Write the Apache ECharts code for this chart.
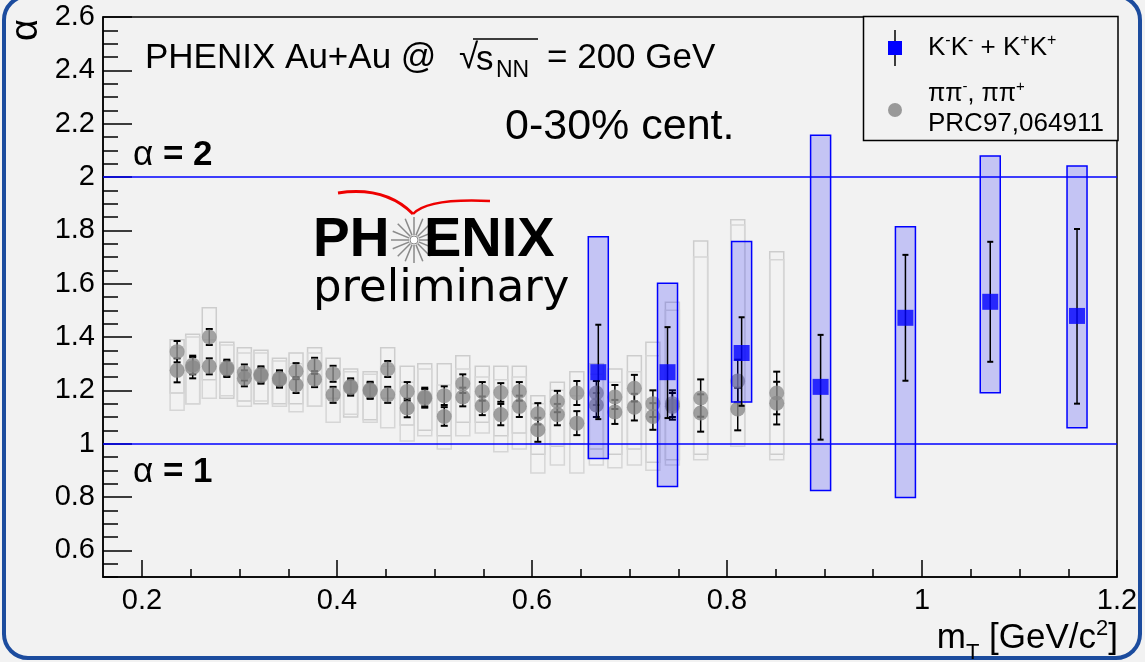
<!DOCTYPE html>
<html>
<head>
<meta charset="utf-8">
<title>PHENIX alpha vs mT</title>
<script src="https://cdn.jsdelivr.net/npm/echarts@6/dist/echarts.min.js"></script>
<style>
  html, body { margin: 0; padding: 0; background: #f2f2f2; }
  #chart { width: 1145px; height: 662px; }
</style>
</head>
<body>
<div id="chart"></div>
<script>
// K-K- + K+K+ (blue squares)
const kaonMt = [0.668, 0.739, 0.815, 0.896, 0.983, 1.070, 1.159]
const kaonAlpha = [1.268, 1.268, 1.340, 1.213, 1.472, 1.532, 1.479]
const kaonStatLo = [1.092, 1.096, 1.142, 1.015, 1.236, 1.307, 1.150]
const kaonStatHi = [1.446, 1.437, 1.474, 1.408, 1.708, 1.757, 1.805]
const kaonSysLo = [0.944, 0.839, 1.156, 0.824, 0.798, 1.191, 1.060]
const kaonSysHi = [1.776, 1.602, 1.758, 2.157, 1.813, 2.079, 2.041]

// pi pi-, pi pi+ (grey circles, PRC97,064911)
const pionMt = [0.236, 0.252, 0.269, 0.287, 0.305, 0.322, 0.341, 0.358, 0.377, 0.396,
  0.414, 0.434, 0.452, 0.472, 0.490, 0.510, 0.529, 0.549, 0.568, 0.587,
  0.606, 0.626, 0.646, 0.666, 0.685, 0.705, 0.724, 0.744, 0.773, 0.811, 0.851]
const pionMinusAlpha = [1.345, 1.295, 1.400, 1.285, 1.267, 1.260, 1.245, 1.272, 1.292, 1.262,
  1.215, 1.202, 1.280, 1.196, 1.175, 1.180, 1.225, 1.196, 1.192, 1.196,
  1.112, 1.158, 1.190, 1.190, 1.175, 1.208, 1.150, 1.150, 1.171, 1.235, 1.190]
const pionPlusAlpha = [1.275, 1.285, 1.290, 1.280, 1.245, 1.255, 1.240, 1.220, 1.242, 1.183,
  1.210, 1.198, 1.183, 1.134, 1.170, 1.102, 1.175, 1.142, 1.109, 1.140,
  1.052, 1.109, 1.077, 1.145, 1.119, 1.137, 1.102, 1.140, 1.115, 1.130, 1.152]
const pionMinusStat = [0.040, 0.035, 0.030, 0.030, 0.030, 0.030, 0.030, 0.030, 0.030, 0.030,
  0.030, 0.030, 0.030, 0.035, 0.035, 0.035, 0.035, 0.035, 0.035, 0.035,
  0.040, 0.040, 0.045, 0.045, 0.045, 0.050, 0.050, 0.050, 0.070, 0.080, 0.080]
const pionPlusStat = [0.045, 0.040, 0.030, 0.030, 0.030, 0.030, 0.030, 0.030, 0.030, 0.030,
  0.030, 0.030, 0.030, 0.035, 0.035, 0.035, 0.035, 0.035, 0.040, 0.040,
  0.045, 0.040, 0.045, 0.045, 0.045, 0.050, 0.050, 0.050, 0.070, 0.080, 0.080]
const pionMinusSysLo = [1.19, 1.15, 1.24, 1.17, 1.16, 1.15, 1.15, 1.15, 1.14, 1.17,
  1.10, 1.09, 1.17, 1.07, 1.05, 1.03, 1.08, 1.08, 1.03, 1.04,
  0.96, 0.99, 1.00, 0.98, 0.96, 0.98, 0.93, 0.94, 0.96, 1.00, 0.96]
const pionMinusSysHi = [1.39, 1.41, 1.51, 1.38, 1.36, 1.35, 1.32, 1.34, 1.36, 1.32,
  1.28, 1.27, 1.36, 1.29, 1.30, 1.30, 1.33, 1.29, 1.29, 1.29,
  1.18, 1.23, 1.27, 1.30, 1.28, 1.33, 1.38, 1.53, 1.76, 1.84, 1.72]
const pionPlusSysLo = [1.125, 1.15, 1.17, 1.18, 1.14, 1.16, 1.14, 1.12, 1.14, 1.08,
  1.11, 1.08, 1.06, 1.01, 1.03, 0.98, 1.03, 1.04, 0.97, 0.98,
  0.89, 0.92, 0.89, 0.92, 0.91, 0.92, 0.90, 0.92, 0.94, 0.99, 0.94]
const pionPlusSysHi = [1.36, 1.40, 1.39, 1.37, 1.34, 1.34, 1.31, 1.30, 1.34, 1.28,
  1.27, 1.26, 1.29, 1.23, 1.28, 1.22, 1.28, 1.25, 1.24, 1.25,
  1.15, 1.20, 1.18, 1.26, 1.23, 1.27, 1.33, 1.50, 1.70, 1.82, 1.69]

const refLines = [1, 2]
const xTickLabels = [0.2, 0.4, 0.6, 0.8, 1.0, 1.2]
const yTickLabels = [0.6, 0.8, 1.0, 1.2, 1.4, 1.6, 1.8, 2.0, 2.2, 2.4, 2.6]

const FONT = '"Liberation Sans", Arial, Helvetica, sans-serif'

function minorTicks (min, max, step) {
  const out = []
  for (let v = Math.ceil(min / step - 1e-9) * step; v <= max + 1e-9; v += step) {
    out.push(Math.round(v * 1000) / 1000)
  }
  return out
}

function boxRender (halfWidth, fill, stroke, lineWidth) {
  return function (params, api) {
    const top = api.coord([api.value(0), api.value(2)])
    const bot = api.coord([api.value(0), api.value(1)])
    return {
      type: 'rect',
      shape: { x: top[0] - halfWidth, y: top[1], width: halfWidth * 2, height: bot[1] - top[1] },
      style: { fill: fill, stroke: stroke, lineWidth: lineWidth }
    }
  }
}

function errRender (capHalf) {
  return function (params, api) {
    const top = api.coord([api.value(0), api.value(2)])
    const bot = api.coord([api.value(0), api.value(1)])
    const st = { stroke: '#000', lineWidth: 1.5 }
    return {
      type: 'group',
      children: [
        { type: 'line', shape: { x1: top[0], y1: top[1], x2: bot[0], y2: bot[1] }, style: st },
        { type: 'line', shape: { x1: top[0] - capHalf, y1: top[1], x2: top[0] + capHalf, y2: top[1] }, style: { stroke: '#000', lineWidth: 2 } },
        { type: 'line', shape: { x1: bot[0] - capHalf, y1: bot[1], x2: bot[0] + capHalf, y2: bot[1] }, style: { stroke: '#000', lineWidth: 2 } }
      ]
    }
  }
}

const pionMinusStatData = pionMt.map((m, i) => [m, pionMinusAlpha[i] - pionMinusStat[i], pionMinusAlpha[i] + pionMinusStat[i]])
const pionPlusStatData = pionMt.map((m, i) => [m, pionPlusAlpha[i] - pionPlusStat[i], pionPlusAlpha[i] + pionPlusStat[i]])
const pionMinusSysData = pionMt.map((m, i) => [m, pionMinusSysLo[i], pionMinusSysHi[i]])
const pionPlusSysData = pionMt.map((m, i) => [m, pionPlusSysLo[i], pionPlusSysHi[i]])
const kaonStatData = kaonMt.map((m, i) => [m, kaonStatLo[i], kaonStatHi[i]])
const kaonSysData = kaonMt.map((m, i) => [m, kaonSysLo[i], kaonSysHi[i]])

const xAxisBase = {
  type: 'value',
  min: 0.16,
  max: 1.2,
  splitLine: { show: false }
}
const yAxisBase = {
  type: 'value',
  min: 0.5,
  max: 2.6,
  splitLine: { show: false }
}

// decorative star of the PHENIX logo
const star = []
for (let k = 0; k < 16; k++) {
  const a = k * Math.PI / 8
  star.push({
    type: 'line',
    shape: { x1: 414 + 5 * Math.cos(a), y1: 240 + 5 * Math.sin(a), x2: 414 + 23 * Math.cos(a), y2: 240 + 23 * Math.sin(a) },
    style: { stroke: '#8a8a8a', lineWidth: 1.5 }
  })
}
star.push({ type: 'circle', shape: { cx: 414, cy: 240, r: 4 }, style: { fill: '#fff', stroke: '#8a8a8a', lineWidth: 1 } })

function txt (x, y, text, size, extra) {
  return {
    type: 'text',
    x: x,
    y: y,
    style: Object.assign({
      text: text,
      fill: '#000',
      fontFamily: FONT,
      fontSize: size,
      align: 'left',
      verticalAlign: 'middle',
      textAlign: 'left',
      textVerticalAlign: 'middle'
    }, extra || {})
  }
}

const option = {
  backgroundColor: '#f2f2f2',
  animation: false,
  grid: {
    left: 103,
    right: 28,
    top: 17,
    bottom: 85,
    show: true,
    borderColor: '#000',
    borderWidth: 1.5,
    backgroundColor: 'transparent'
  },
  xAxis: [
    Object.assign({}, xAxisBase, {
      position: 'bottom',
      axisLine: { show: true, lineStyle: { color: '#000', width: 1.5 } },
      axisTick: { show: true, inside: true, length: 17, customValues: xTickLabels, lineStyle: { color: '#000', width: 1.5 } },
      axisLabel: { show: true, customValues: xTickLabels, margin: 9, color: '#000', fontFamily: FONT, fontSize: 29, formatter: v => String(Math.round(v * 10) / 10) }
    }),
    Object.assign({}, xAxisBase, {
      position: 'bottom',
      axisLine: { show: false },
      axisTick: { show: true, inside: true, length: 8, customValues: minorTicks(0.16, 1.2, 0.05), lineStyle: { color: '#000', width: 1.5 } },
      axisLabel: { show: false }
    })
  ],
  yAxis: [
    Object.assign({}, yAxisBase, {
      position: 'left',
      axisLine: { show: true, lineStyle: { color: '#000', width: 1.5 } },
      axisTick: { show: true, inside: true, length: 29, customValues: yTickLabels, lineStyle: { color: '#000', width: 1.5 } },
      axisLabel: { show: true, customValues: yTickLabels, margin: 8, color: '#000', fontFamily: FONT, fontSize: 29, formatter: v => String(Math.round(v * 10) / 10) }
    }),
    Object.assign({}, yAxisBase, {
      position: 'left',
      axisLine: { show: false },
      axisTick: { show: true, inside: true, length: 15, customValues: minorTicks(0.5, 2.6, 0.05), lineStyle: { color: '#000', width: 1.5 } },
      axisLabel: { show: false }
    })
  ],
  series: [
    {
      name: 'pi sys minus', type: 'custom', z: 1, renderItem: boxRender(7, 'none', '#cdcdcd', 1.5),
      encode: { x: 0, y: [1, 2] }, data: pionMinusSysData, silent: true
    },
    {
      name: 'pi sys plus', type: 'custom', z: 1, renderItem: boxRender(7, 'none', '#d6d6d6', 1.5),
      encode: { x: 0, y: [1, 2] }, data: pionPlusSysData, silent: true
    },
    {
      name: 'ref lines', type: 'line', z: 2, data: [], symbol: 'none',
      markLine: {
        silent: true, symbol: 'none', label: { show: false },
        lineStyle: { color: '#0000ff', width: 1.5, type: 'solid' },
        data: refLines.map(v => ({ yAxis: v }))
      }
    },
    {
      name: 'pi stat minus', type: 'custom', z: 3, renderItem: errRender(3.5),
      encode: { x: 0, y: [1, 2] }, data: pionMinusStatData, silent: true
    },
    {
      name: 'pi stat plus', type: 'custom', z: 3, renderItem: errRender(3.5),
      encode: { x: 0, y: [1, 2] }, data: pionPlusStatData, silent: true
    },
    {
      name: 'pipi-', type: 'scatter', z: 4, symbol: 'circle', symbolSize: 15,
      itemStyle: { color: '#8e8e8e' }, data: pionMt.map((m, i) => [m, pionMinusAlpha[i]])
    },
    {
      name: 'pipi+', type: 'scatter', z: 4, symbol: 'circle', symbolSize: 15,
      itemStyle: { color: '#888888' }, data: pionMt.map((m, i) => [m, pionPlusAlpha[i]])
    },
    {
      name: 'K sys', type: 'custom', z: 5, renderItem: boxRender(10, 'rgba(0,0,255,0.19)', '#0000ff', 1.5),
      encode: { x: 0, y: [1, 2] }, data: kaonSysData, silent: true
    },
    {
      name: 'K stat', type: 'custom', z: 6, renderItem: errRender(3),
      encode: { x: 0, y: [1, 2] }, data: kaonStatData, silent: true
    },
    {
      name: 'K-K- + K+K+', type: 'scatter', z: 7, symbol: 'rect', symbolSize: 16,
      itemStyle: { color: '#0000ff' }, data: kaonMt.map((m, i) => [m, kaonAlpha[i]])
    }
  ],
  graphic: [
    // outer rounded frame
    { type: 'rect', z: 0, shape: { x: 4, y: -4, width: 1136, height: 662, r: 24 }, style: { fill: 'none', stroke: '#1c4c9e', lineWidth: 4 } },
    // y axis title (rotated like ROOT)
    {
      type: 'text', x: 27, y: 30, rotation: Math.PI / 2,
      style: { text: 'α', fill: '#000', fontFamily: FONT, fontSize: 38, align: 'center', textAlign: 'center', verticalAlign: 'middle', textVerticalAlign: 'middle' }
    },
    // x axis title
    {
      type: 'text', x: 1118, y: 638,
      style: {
        text: '{n|m}{s|T}{n| [GeV/c}{p|2}{n|]}',
        align: 'right', textAlign: 'right', verticalAlign: 'middle', textVerticalAlign: 'middle',
        rich: {
          n: { fontFamily: FONT, fontSize: 35, fill: '#000', lineHeight: 40 },
          s: { fontFamily: FONT, fontSize: 22, fill: '#000', lineHeight: 40, verticalAlign: 'bottom', padding: [0, 0, -6, 0] },
          p: { fontFamily: FONT, fontSize: 22, fill: '#000', lineHeight: 40, verticalAlign: 'top' }
        }
      }
    },
    // header
    txt(145, 58, 'PHENIX Au+Au @', 35),
    txt(459, 58, '√', 35),
    { type: 'line', shape: { x1: 473, y1: 39, x2: 538, y2: 39 }, style: { stroke: '#000', lineWidth: 1.5 } },
    txt(476, 60, 's', 35),
    txt(496, 71, 'NN', 23),
    txt(547, 58, '= 200 GeV', 35),
    txt(505, 127, '0-30% cent.', 43),
    {
      type: 'text', x: 133, y: 155,
      style: {
        text: '{a|α}{b| = 2}', verticalAlign: 'middle', textVerticalAlign: 'middle',
        rich: { a: { fontFamily: FONT, fontSize: 35, fill: '#000' }, b: { fontFamily: FONT, fontSize: 35, fontWeight: 'bold', fill: '#000' } }
      }
    },
    {
      type: 'text', x: 133, y: 472,
      style: {
        text: '{a|α}{b| = 1}', verticalAlign: 'middle', textVerticalAlign: 'middle',
        rich: { a: { fontFamily: FONT, fontSize: 35, fill: '#000' }, b: { fontFamily: FONT, fontSize: 35, fontWeight: 'bold', fill: '#000' } }
      }
    },
    // PHENIX preliminary logo
    { type: 'bezierCurve', shape: { x1: 338, y1: 193, x2: 413, y2: 214, cpx1: 385, cpy1: 186 }, style: { stroke: '#ee0000', lineWidth: 3, fill: 'none' } },
    { type: 'bezierCurve', shape: { x1: 413, y1: 214, x2: 490, y2: 201, cpx1: 428, cpy1: 198 }, style: { stroke: '#ee0000', lineWidth: 2.5, fill: 'none' } },
    txt(313, 241, 'PH', 55, { fontWeight: 'bold' }),
    { type: 'group', children: star },
    txt(424, 241, 'ENIX', 56, { fontWeight: 'bold' }),
    txt(313, 289, 'preliminary', 45, { fontFamily: '"DejaVu Sans", sans-serif' }),
    // legend
    { type: 'rect', shape: { x: 863.5, y: 16.5, width: 254.5, height: 124 }, style: { fill: '#f2f2f2', stroke: '#000', lineWidth: 1.5 } },
    { type: 'line', shape: { x1: 895, y1: 30, x2: 895, y2: 66 }, style: { stroke: '#000', lineWidth: 1.5 } },
    { type: 'rect', shape: { x: 888, y: 41, width: 14, height: 14 }, style: { fill: '#0000ff' } },
    { type: 'circle', shape: { cx: 895, cy: 110, r: 7 }, style: { fill: '#999999' } },
    {
      type: 'text', x: 928, y: 48,
      style: {
        text: '{n|K}{p|-}{n|K}{p|-}{n| + K}{p|+}{n|K}{p|+}',
        verticalAlign: 'middle', textVerticalAlign: 'middle',
        rich: {
          n: { fontFamily: FONT, fontSize: 26, fill: '#000', lineHeight: 30 },
          p: { fontFamily: FONT, fontSize: 16, fill: '#000', lineHeight: 30, verticalAlign: 'top' }
        }
      }
    },
    {
      type: 'text', x: 928, y: 94,
      style: {
        text: '{n|ππ}{p|-}{n|, ππ}{p|+}',
        verticalAlign: 'middle', textVerticalAlign: 'middle',
        rich: {
          n: { fontFamily: FONT, fontSize: 25, fill: '#000', lineHeight: 30 },
          p: { fontFamily: FONT, fontSize: 15, fill: '#000', lineHeight: 30, verticalAlign: 'top' }
        }
      }
    },
    txt(928, 124, 'PRC97,064911', 26)
  ]
}

const chart = echarts.init(document.getElementById('chart'))
chart.setOption(option)
</script>
</body>
</html>
